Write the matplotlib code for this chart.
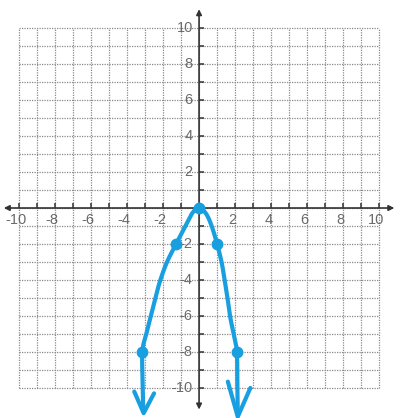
import numpy as np
import matplotlib
matplotlib.use("Agg")
import matplotlib.pyplot as plt

# Grid range and tick labels
grid_min, grid_max = -10, 10
x_label_vals = [-10, -8, -6, -4, -2, 2, 4, 6, 8, 10]
y_label_vals = [10, 8, 6, 4, 2, -2, -4, -6, -8, -10]

# Plotted points of the parabola
pts_x = [-3.15, -1.28, 0.0, 1.0, 2.1]
pts_y = [-8.0, -2.0, 0.0, -2.0, -8.0]

# Hand-drawn stroke through the points (left end to right end)
curve_x = [-3.1, -3.13, -3.15, -2.93, -2.68, -2.43, -2.15, -1.78, -1.28,
           -0.68, -0.35, 0.0, 0.38, 0.7, 1.0, 1.25, 1.42, 1.58, 1.72, 1.92,
           2.1, 2.13, 2.15]
curve_y = [-11.3, -10.0, -8.0, -7.0, -6.0, -5.0, -4.0, -3.0, -2.0,
           -0.85, -0.25, 0.0, -0.3, -1.0, -2.0, -3.0, -4.0, -5.0, -6.0, -7.0,
           -8.0, -10.0, -11.5]

# Arrowheads at both ends of the stroke: (arm start, tip, arm end)
left_head_x = [-3.6, -3.08, -2.5]
left_head_y = [-10.2, -11.4, -10.3]
right_head_x = [1.6, 2.15, 2.85]
right_head_y = [-9.65, -11.6, -10.0]

blue = "#179fdf"
grid_col = "#8a8a8a"
axis_col = "#333333"
text_col = "#6a6a6a"


def smooth(xs, ys, n=12):
    """Catmull-Rom rendering of a traced stroke."""
    p = np.column_stack([xs, ys])
    p = np.vstack([p[0], p, p[-1]])
    out = []
    t = np.linspace(0, 1, n, endpoint=False)[:, None]
    for i in range(1, len(p) - 2):
        p0, p1, p2, p3 = p[i - 1], p[i], p[i + 1], p[i + 2]
        seg = 0.5 * ((2 * p1) + (-p0 + p2) * t
                     + (2 * p0 - 5 * p1 + 4 * p2 - p3) * t ** 2
                     + (-p0 + 3 * p1 - 3 * p2 + p3) * t ** 3)
        out.append(seg)
    out.append(p[-2][None, :])
    out = np.vstack(out)
    return out[:, 0], out[:, 1]


fig = plt.figure(figsize=(4.01, 4.18), dpi=100)
ax = fig.add_axes([0, 0, 1, 1])
ax.set_xlim(-11.06, 11.22)
ax.set_ylim(-11.67, 11.56)
ax.axis("off")

# Dotted grid
vals = np.arange(grid_min, grid_max + 1)
ax.vlines(vals, grid_min, grid_max, colors=grid_col, linewidth=0.9,
          linestyles=(0, (1, 1)), zorder=1)
ax.hlines(vals, grid_min, grid_max, colors=grid_col, linewidth=0.9,
          linestyles=(0, (1, 1)), zorder=1)

# Axes with arrowheads
ax.annotate("", xy=(10.85, 0), xytext=(-10.85, 0),
            arrowprops=dict(arrowstyle="<|-|>", color=axis_col, lw=1.2,
                            mutation_scale=8, shrinkA=0, shrinkB=0), zorder=2)
ax.annotate("", xy=(0, 11.05), xytext=(0, -11.2),
            arrowprops=dict(arrowstyle="<|-|>", color=axis_col, lw=1.2,
                            mutation_scale=8, shrinkA=0, shrinkB=0), zorder=2)

# Small tick marks along the axes
ax.hlines(vals[vals != 0], 0, 0.28, colors=axis_col, linewidth=1.1, zorder=2)
ax.vlines(vals[vals != 0], 0, 0.28, colors=axis_col, linewidth=1.1, zorder=2)

# Axis numbers
for v in x_label_vals:
    ax.text(v - 0.15, -0.68, str(v), ha="center", va="center", fontsize=10.5,
            color=text_col, family="Liberation Sans", zorder=3)
for v in y_label_vals:
    ax.text(-0.35, v, str(v), ha="right", va="center", fontsize=10.5,
            color=text_col, family="Liberation Sans", zorder=3)

# Parabola stroke, arrowheads and points
sx, sy = smooth(curve_x, curve_y)
ax.plot(sx, sy, color=blue, lw=3, solid_capstyle="round",
        solid_joinstyle="round", zorder=4)
for hx, hy in [(left_head_x, left_head_y), (right_head_x, right_head_y)]:
    ax.plot(hx, hy, color=blue, lw=3, solid_capstyle="round",
            solid_joinstyle="round", zorder=4)
ax.plot(pts_x, pts_y, "o", color=blue, markersize=7.5, zorder=5)

fig.savefig("out.png", dpi=100, facecolor="white")
